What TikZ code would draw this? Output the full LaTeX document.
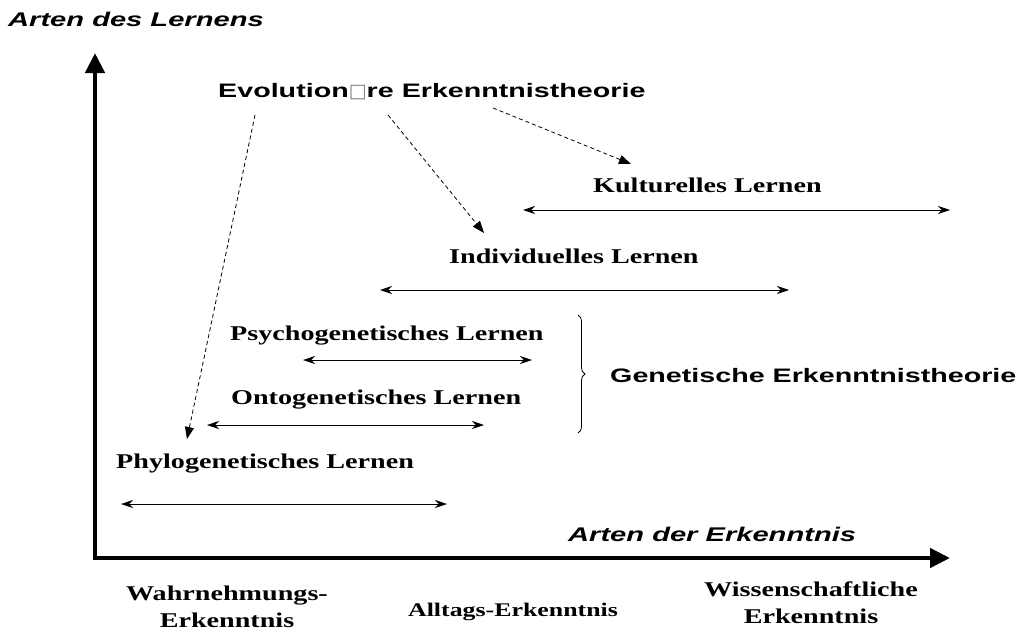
\documentclass[tikz,border=0pt]{standalone}
\usepackage{fontspec}
\setmainfont{Liberation Serif}[FakeStretch=1.34]
\newfontfamily\arial{Liberation Sans}[FakeStretch=1.47]
\newfontfamily\symfont{DejaVu Sans}
\usetikzlibrary{arrows.meta,decorations.pathreplacing}
\begin{document}
\begin{tikzpicture}[x=1pt,y=-1pt,
  lbl/.style={inner sep=0pt,anchor=base west,font=\bfseries\fontsize{21}{27}\selectfont},
  sanslbl/.style={inner sep=0pt,anchor=base west,font=\arial\bfseries\fontsize{19.5}{22}\selectfont},
  axislbl/.style={inner sep=0pt,anchor=base west,font=\arial\bfseries\itshape\fontsize{19.8}{22}\selectfont},
  axis/.style={line width=4.5pt,-{Triangle[length=20pt,width=19pt]}},
  span/.style={line width=0.8pt,{Stealth[length=12pt,width=8pt]}-{Stealth[length=12pt,width=8pt]}},
  link/.style={line width=0.8pt,dashed,dash pattern=on 4pt off 3pt,-{Triangle[length=12pt,width=9pt]}}]
\useasboundingbox (0,0) rectangle (1022,634);

% axes
\coordinate (ytop) at (95,53);
\coordinate (xend) at (950,558);
\draw[axis] (95,560) -- (ytop);
\draw[axis] (93,558) -- (xend);

% axis titles
\node[axislbl] (ylab) at (8,26.5) {Arten des Lernens};
\node[axislbl] (xlab) at (568,541) {Arten der Erkenntnis};

% kinds of knowledge along the horizontal axis
\node[lbl,anchor=base,align=center] (wahr) at (227,627) {Wahrnehmungs-\\Erkenntnis};
\node[lbl,anchor=base,font=\bfseries\fontsize{19.3}{24}\selectfont] (allt) at (513,616) {Alltags-Erkenntnis};
\node[lbl,anchor=base,align=center] (wiss) at (811,623) {Wissenschaftliche\\Erkenntnis};

% theories
\node[sanslbl] (evo) at (218,97) {Evolution{\symfont\mdseries\fontsize{19}{20}\selectfont\color{gray}□}re Erkenntnistheorie};
\node[sanslbl] (gen) at (610,382) {Genetische Erkenntnistheorie};

% kinds of learning
\node[lbl] (kult) at (593,192) {Kulturelles Lernen};
\node[lbl] (indiv) at (449,263) {Individuelles Lernen};
\node[lbl] (psych) at (230,340) {Psychogenetisches Lernen};
\node[lbl] (onto) at (231,404) {Ontogenetisches Lernen};
\node[lbl] (phylo) at (116,468) {Phylogenetisches Lernen};

% ranges
\coordinate (k1) at (523,210); \coordinate (k2) at (950,210);
\coordinate (i1) at (380,290); \coordinate (i2) at (789,290);
\coordinate (p1) at (303,360); \coordinate (p2) at (532,360);
\coordinate (o1) at (207,425); \coordinate (o2) at (484,425);
\coordinate (f1) at (121,504); \coordinate (f2) at (447,504);
\draw[span] (k1) -- (k2);
\draw[span] (i1) -- (i2);
\draw[span] (p1) -- (p2);
\draw[span] (o1) -- (o2);
\draw[span] (f1) -- (f2);

% brace grouping the genetic kinds of learning
\draw[line width=0.8pt,decorate,decoration={brace,amplitude=7pt}] (578,315) -- (578,433);

% links from the evolutionary theory
\coordinate (e1) at (255,115); \coordinate (t1) at (187,439);
\coordinate (e2) at (388,115); \coordinate (t2) at (484,233);
\coordinate (e3) at (493,108); \coordinate (t3) at (631,164);
\draw[link] (e1) -- (t1);
\draw[link] (e2) -- (t2);
\draw[link] (e3) -- (t3);
\end{tikzpicture}
\end{document}
